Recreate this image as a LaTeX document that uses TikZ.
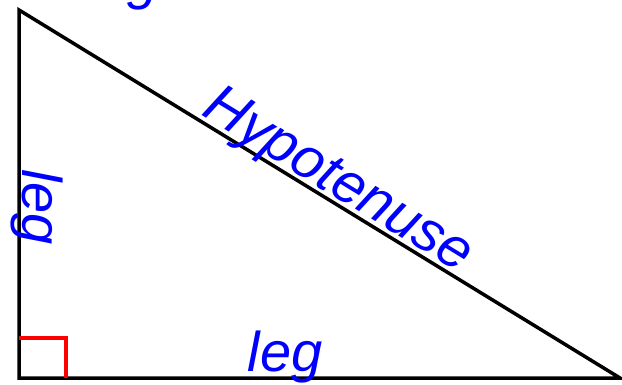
\documentclass[tikz,border=0pt]{standalone}
\usepackage{fontspec}
\setmainfont{Liberation Sans}

\tikzset{
  side/.style={line width=3.5pt, line join=miter},
  sidelabel/.style={text=blue, inner sep=0pt, anchor=base, font=\itshape\fontsize{56}{56}\selectfont}
}

\begin{document}
\begin{tikzpicture}[x=1pt, y=-1pt]
  \useasboundingbox (0,0) rectangle (622,385);

  \coordinate (A) at (19,10);
  \coordinate (B) at (19,378);
  \coordinate (C) at (620,378);

  \draw[side] (A) -- (B) -- (C) -- cycle;
  \draw[red, line width=3.5pt] (19,338) -- (66,338) -- (66,378);

  \node[sidelabel] (toplabel) at (121,-1) {leg};
  \node[sidelabel] (bottomleg) at (285,371) {leg};
  \node[sidelabel, rotate=-90] (leftleg) at (23,207) {leg};
  \node[sidelabel, rotate=-31.5, font=\itshape\fontsize{57}{57}\selectfont] (hyp) at (330,194) {Hypotenuse};
\end{tikzpicture}
\end{document}
